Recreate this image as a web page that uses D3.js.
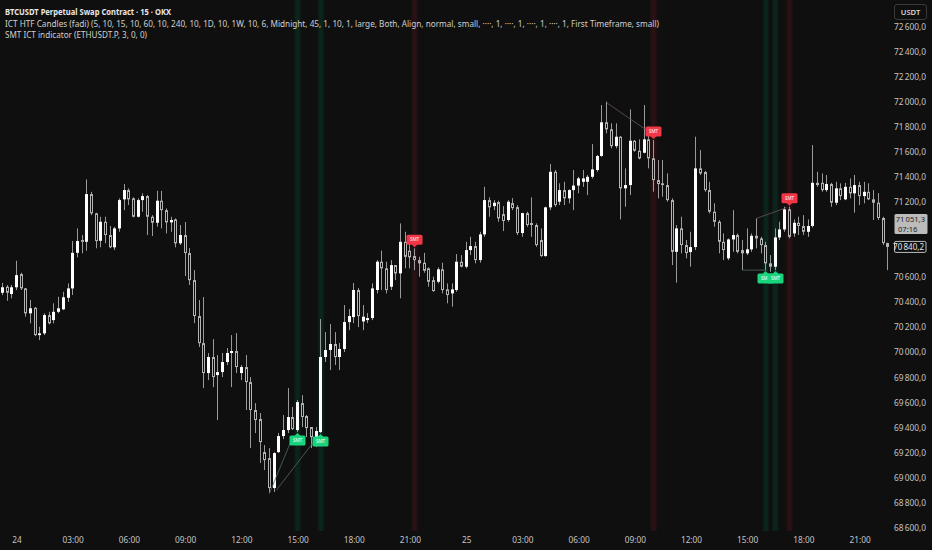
<!DOCTYPE html>
<html><head><meta charset="utf-8">
<script src="https://cdn.jsdelivr.net/npm/d3@7"></script>
<style>html,body{margin:0;padding:0;background:#0f0f0f;overflow:hidden}svg{display:block}</style>
</head><body>
<svg id="chart" width="932" height="550"></svg>
<script>
// ---------- DATA (BTCUSDT perp, 15m bars, first bar = 23rd 23:15, bar offset -3 from 24th 00:00) ----------
const firstBarOffset = -3;
const opens = [70474,70522,70464,70518,70623,70509,70310,70354,70136,70150,70296,70256,70322,70342,70434,70509,70793,70895,70881,71262,71108,70889,71041,70935,70837,70988,71220,71294,71228,71081,71214,71246,71081,71033,71209,71134,71036,71060,70869,70935,70791,70575,70288,70072,69833,69961,69817,69841,69921,69993,70009,69833,69881,69761,69538,69466,69202,69154,68915,69202,69330,69378,69482,69378,69593,69490,69402,69322,69362,69961,70017,70065,69961,70025,70240,70280,70496,70245,70256,70272,70496,70722,70669,70522,70695,70629,70881,70810,70767,70735,70714,70669,70575,70562,70661,70501,70469,70496,70722,70682,70815,70847,70735,70940,71214,71166,71198,71102,71055,71190,71158,70951,71110,71031,71015,70895,70767,71156,71440,71201,71294,71228,71294,71330,71360,71360,71400,71454,71566,71835,71779,71645,71720,71308,71334,71688,71608,71592,71699,71547,71374,71348,71334,71214,70801,70988,70855,70799,70839,71467,71438,71294,71121,71041,70881,70749,70900,70935,70815,70789,70821,70929,70908,70855,70709,70682,70916,70980,71140,70948,71033,71007,70961,71007,71352,71352,71294,71342,71193,71308,71220,71320,71268,71334,71246,71280,71220,71193,71071,70871];
const highs = [70553,70536,70536,70730,70634,70512,70416,70360,70203,70310,70322,70390,70442,70482,70549,70887,70988,70935,71379,71280,71113,71081,71081,71007,71001,71228,71342,71308,71236,71228,71268,71254,71094,71288,71288,71148,71081,71068,71015,71039,70831,70655,70416,70440,69993,70104,69977,69993,70033,70136,70152,69897,69977,69801,69593,69514,69258,69234,69202,69354,69498,69713,69562,69617,69657,69498,69402,69402,70264,70160,70224,70160,70073,70376,70344,70552,70512,70376,70312,70549,70735,70810,70722,70735,70695,71028,70961,70869,70829,70762,70793,70677,70602,70677,70714,70549,70549,70783,70775,70881,70921,70881,70961,71320,71236,71214,71209,71166,71214,71230,71174,71113,71121,71236,71028,70988,71161,71502,71454,71348,71360,71300,71454,71400,71454,71414,71661,71574,71973,72000,71827,71827,71725,71467,71938,71693,71699,71973,71799,71693,71534,71534,71427,71228,71015,71081,70895,70961,71720,71613,71448,71360,71188,71055,70948,70908,71134,70948,70895,70988,70948,71068,70921,70881,70775,70988,71041,71161,71161,71060,71081,71094,71060,71653,71440,71427,71414,71352,71360,71348,71352,71387,71414,71360,71360,71348,71294,71270,71081,70874];
const lows = [70456,70410,70430,70496,70496,70283,70230,70128,70096,70136,70222,70230,70310,70336,70402,70456,70757,70789,70810,71094,70829,70837,70869,70829,70815,70961,71134,71174,71076,71076,71121,70935,70927,71001,70988,70948,70961,70837,70855,70607,70536,70232,70041,69713,69777,69721,69458,69801,69897,69721,69833,69777,69538,69234,69354,69115,69059,68875,68883,69194,69306,69354,69378,69362,69402,69322,69234,69242,69354,69921,69857,69897,69857,70001,70176,70232,70200,70176,70232,70256,70469,70496,70469,70496,70575,70430,70669,70669,70655,70602,70634,70522,70482,70549,70469,70390,70363,70482,70677,70669,70775,70709,70714,70921,71081,71134,71041,70967,71041,71134,70935,70921,71001,70921,70841,70762,70762,71134,71161,71174,71174,71188,71134,71268,71320,71254,71387,71440,71560,71747,71627,71627,71060,71161,71254,71600,71539,71587,71467,71281,71228,71241,71201,70695,70554,70789,70749,70682,70815,71414,71280,71108,71001,70789,70735,70735,70801,70789,70655,70775,70801,70829,70789,70655,70642,70655,70895,70961,70908,70921,70935,70935,70921,70996,71320,71280,71280,71161,71174,71214,71214,71228,71113,71174,71188,71214,71055,71055,70855,70655];
const closes = [70518,70474,70518,70615,70509,70310,70350,70136,70150,70296,70230,70322,70350,70438,70509,70793,70887,70881,71262,71108,70887,71041,70935,70837,70988,71214,71294,71220,71081,71214,71246,71081,71033,71209,71134,71036,71055,70869,70935,70791,70575,70288,70072,69833,69961,69801,69841,69921,69993,70009,69881,69881,69761,69538,69458,69282,69138,68915,69194,69330,69378,69482,69386,69601,69482,69394,69322,69370,69961,70017,70065,69961,70025,70240,70288,70496,70288,70283,70272,70509,70722,70669,70496,70695,70629,70881,70761,70757,70735,70709,70650,70562,70488,70661,70496,70456,70501,70722,70682,70815,70847,70735,70940,71214,71156,71193,71068,71047,71201,71150,70951,71110,71015,71015,70855,70767,71156,71440,71174,71294,71228,71294,71330,71387,71387,71400,71459,71566,71835,71779,71645,71720,71308,71334,71688,71608,71547,71699,71547,71374,71342,71334,71214,70801,70988,70855,70791,70839,71467,71427,71294,71121,71041,70881,70815,70900,70935,70801,70789,70821,70929,70908,70855,70709,70682,70916,70980,71140,70921,71033,71007,70961,71007,71352,71334,71294,71342,71193,71308,71246,71320,71268,71334,71246,71280,71220,71193,71071,70871,70840.2];

const priceTicks = [68600,68800,69000,69200,69400,69600,69800,70000,70200,70400,70600,70800,71000,71200,71400,71600,71800,72000,72200,72400,72600];
const timeTickLabels = ["24","03:00","06:00","09:00","12:00","15:00","18:00","21:00","25","03:00","06:00","09:00","12:00","15:00","18:00","21:00"];

// SMT signals (bar offset from 24th 00:00, type)
const smtBars  = [60, 65, 85, 136, 160, 162, 165];
const smtTypes = ["bull","bull","bear","bear","bull","bull","bear"];
// SMT connection lines (bar offsets & prices)
const smtLineFromBar   = [54, 55.5, 126, 155, 158];
const smtLineFromPrice = [68872, 68899, 71991, 70655, 71068];
const smtLineToBar     = [58.4, 63.2, 134.5, 160.2, 164.4];
const smtLineToPrice   = [69272, 69272, 71773, 70655, 71154];
const smtLineTypes     = ["bull","bull","bear","bull","bear"];

const lastPrice = 70840.2;
const markPrice = 71051.3;
const countdown = "07:16";

const title1 = "BTCUSDT Perpetual Swap Contract · 15 · OKX";
const title2 = "ICT HTF Candles (fadi) (5, 10, 15, 10, 60, 10, 240, 10, 1D, 10, 1W, 10, 6, Midnight, 45, 1, 10, 1, large, Both, Align, normal, small, ····, 1, ····, 1, ····, 1, ····, 1, First Timeframe, small)";
const title3 = "SMT ICT indicator (ETHUSDT.P, 3, 0, 0)";

// ---------- RENDER ----------
const W = 932, H = 550;
const BG = "#0f0f0f";
const FONT = "'Noto Sans', 'Open Sans', sans-serif";
const svg = d3.select("#chart");
svg.append("rect").attr("width", W).attr("height", H).attr("fill", BG);

const MS15 = 15 * 60 * 1000;
const t0 = Date.UTC(2024, 4, 24, 0, 0);
const barTime = k => new Date(t0 + k * MS15);

const x = d3.scaleUtc().domain([new Date(t0), new Date(t0 + 96 * MS15)]).range([16.5, 466.16]);
const y = d3.scaleLinear().domain([68600, 72600]).range([527.5, 26.5]);

const bars = opens.map((o, k) => ({
  t: barTime(k + firstBarOffset), o, h: highs[k], l: lows[k], c: closes[k]
}));

const defs = svg.append("defs");
defs.append("clipPath").attr("id", "plot").append("rect").attr("x", 0).attr("y", 0).attr("width", 891).attr("height", 531);

const plot = svg.append("g").attr("clip-path", "url(#plot)");

// background bands (soft glow: wide faint + narrow core)
const bandData = smtBars.map((b, k) => ({ b, type: smtTypes[k] }));
plot.selectAll("rect.bandw").data(bandData).join("rect").attr("class", "bandw")
  .attr("x", d => x(barTime(d.b)) - 3.5).attr("y", 0).attr("width", 7).attr("height", 531)
  .attr("fill", d => d.type === "bull" ? "rgba(0,170,95,0.07)" : "rgba(210,40,60,0.07)");
plot.selectAll("rect.band").data(bandData).join("rect").attr("class", "band")
  .attr("x", d => x(barTime(d.b)) - 2).attr("y", 0).attr("width", 4).attr("height", 531)
  .attr("fill", d => d.type === "bull" ? "rgba(0,170,95,0.09)" : "rgba(210,40,60,0.08)");

// candles
const cg = plot.append("g");
bars.forEach(d => {
  const px = Math.floor(x(d.t));
  cg.append("line")
    .attr("x1", px + 0.5).attr("x2", px + 0.5)
    .attr("y1", y(d.h)).attr("y2", y(d.l))
    .attr("stroke", "#9a9a9a").attr("stroke-width", 1);
  const top = y(Math.max(d.o, d.c)), bot = y(Math.min(d.o, d.c));
  if (d.c >= d.o) {
    cg.append("rect").attr("x", px - 1).attr("width", 3)
      .attr("y", top).attr("height", Math.max(1, bot - top))
      .attr("fill", "#ffffff");
  } else {
    cg.append("rect").attr("x", px - 0.5).attr("width", 2)
      .attr("y", top + 0.5).attr("height", Math.max(0.5, bot - top - 1))
      .attr("fill", BG).attr("stroke", "#b4b4b4").attr("stroke-width", 1);
  }
});

// SMT lines
plot.selectAll("line.smt").data(smtLineFromBar.map((b, k) => ({
  x1: x(new Date(t0 + b * MS15)), y1: y(smtLineFromPrice[k]),
  x2: x(new Date(t0 + smtLineToBar[k] * MS15)), y2: y(smtLineToPrice[k]),
  type: smtLineTypes[k]
}))).join("line").attr("class", "smt")
  .attr("x1", d => d.x1).attr("y1", d => d.y1).attr("x2", d => d.x2).attr("y2", d => d.y2)
  .attr("stroke", d => d.type === "bull" ? "#4f6b5e" : "#6b5558").attr("stroke-width", 0.8);

// SMT labels
smtBars.forEach((b, k) => {
  const bar = bars[b - firstBarOffset];
  const cx = Math.floor(x(barTime(b))) + 0.5;
  const bull = smtTypes[k] === "bull";
  const col = bull ? "#19d47c" : "#f23645";
  const bw = 16, bh = 10;
  const g = plot.append("g");
  if (bull) {
    const tip = y(bar.l) + 1;
    g.append("path").attr("d", `M${cx},${tip} L${cx - 3},${tip + 3} L${cx + 3},${tip + 3} Z`).attr("fill", col);
    g.append("rect").attr("x", cx - bw / 2).attr("y", tip + 2.5).attr("width", bw).attr("height", bh).attr("rx", 1.5).attr("fill", col);
    g.append("text").attr("x", cx).attr("y", tip + 2.5 + bh / 2 + 0.3).attr("text-anchor", "middle").attr("dominant-baseline", "middle")
      .attr("font-family", FONT).attr("font-size", 4.6).attr("fill", "#ffffff").text("SMT");
  } else {
    const tip = y(bar.h) - 1;
    g.append("path").attr("d", `M${cx},${tip} L${cx - 3},${tip - 3} L${cx + 3},${tip - 3} Z`).attr("fill", col);
    g.append("rect").attr("x", cx - bw / 2).attr("y", tip - 2.5 - bh).attr("width", bw).attr("height", bh).attr("rx", 1.5).attr("fill", col);
    g.append("text").attr("x", cx).attr("y", tip - 2.5 - bh / 2 + 0.3).attr("text-anchor", "middle").attr("dominant-baseline", "middle")
      .attr("font-family", FONT).attr("font-size", 4.6).attr("fill", "#ffffff").text("SMT");
  }
});

// ---------- Y axis (right) ----------
const fmtPrice = v => {
  const s = v.toFixed(1).replace(".", ",");
  const [ip, dp] = s.split(",");
  return ip.replace(/\B(?=(\d{3})+(?!\d))/g, "\u2009") + "," + dp;
};
const my = y(markPrice), ly = y(lastPrice);
// tick labels that sit under the price boxes are hidden, as in the reference
const visibleTicks = priceTicks.filter(v => Math.abs(y(v) - (my + 3.5)) > 13 && Math.abs(y(v) - ly) > 9);
const yAxis = d3.axisRight(y).tickValues(visibleTicks).tickSize(0).tickPadding(0).tickFormat(fmtPrice);
const yg = svg.append("g").attr("transform", "translate(926,0)").call(yAxis);
yg.select(".domain").remove();
yg.selectAll("text").attr("text-anchor", "end").attr("dy", "0.34em")
  .attr("font-family", FONT).attr("font-size", 8.3).attr("fill", "#c4c4c4");

// ---------- X axis ----------
const timeTicks = timeTickLabels.map((_, k) => new Date(t0 + k * 12 * MS15));
const xAxis = d3.axisBottom(x).tickValues(timeTicks).tickSize(0).tickPadding(0)
  .tickFormat((d, k) => timeTickLabels[k]);
const xg = svg.append("g").attr("transform", "translate(0,537)").call(xAxis);
xg.select(".domain").remove();
xg.selectAll("text").attr("dy", "0.34em").attr("y", 3.5)
  .attr("font-family", FONT).attr("font-size", 8.3).attr("fill", "#c4c4c4");

// ---------- price labels ----------
svg.append("rect").attr("x", 894.5).attr("y", my - 6.5).attr("width", 33).attr("height", 20).attr("rx", 1.5).attr("fill", "#bcbcbc");
svg.append("text").attr("x", 925).attr("y", my - 0.6).attr("dy", "0.34em").attr("text-anchor", "end")
  .attr("font-family", FONT).attr("font-size", 7.6).attr("fill", "#1b1b1b").text(fmtPrice(markPrice));
svg.append("text").attr("x", 898).attr("y", my + 8.6).attr("dy", "0.34em").attr("text-anchor", "start")
  .attr("font-family", FONT).attr("font-size", 7.6).attr("fill", "#1b1b1b").text(countdown);

svg.append("rect").attr("x", 894.5).attr("y", ly - 5.5).attr("width", 31.5).attr("height", 11).attr("rx", 1.5)
  .attr("fill", BG).attr("stroke", "#d0d0d0").attr("stroke-width", 0.9);
svg.append("text").attr("x", 924).attr("y", ly).attr("dy", "0.34em").attr("text-anchor", "end")
  .attr("font-family", FONT).attr("font-size", 8).attr("fill", "#e6e6e6").text(fmtPrice(lastPrice));

// USDT box
svg.append("rect").attr("x", 894.5).attr("y", 4.5).attr("width", 32).attr("height", 15).attr("rx", 2.5)
  .attr("fill", BG).attr("stroke", "#3a3a3a").attr("stroke-width", 1);
svg.append("text").attr("x", 910.5).attr("y", 12).attr("dy", "0.35em").attr("text-anchor", "middle")
  .attr("font-family", FONT).attr("font-size", 7.6).attr("font-weight", 600).attr("fill", "#d6d6d6").text("USDT");

// ---------- header ----------
const hdr = svg.append("g").attr("font-family", FONT);
hdr.append("text").attr("x", 5).attr("y", 12.5).attr("dy", "0.35em").attr("font-size", 8.4).attr("font-weight", 700)
  .attr("fill", "#e8e8e8").attr("textLength", 166).attr("lengthAdjust", "spacingAndGlyphs").text(title1);
hdr.append("text").attr("x", 5).attr("y", 23.8).attr("dy", "0.35em").attr("font-size", 8.4)
  .attr("fill", "#cfcfcf").attr("textLength", 654).attr("lengthAdjust", "spacingAndGlyphs").text(title2);
hdr.append("text").attr("x", 5).attr("y", 35).attr("dy", "0.35em").attr("font-size", 8.4)
  .attr("fill", "#cfcfcf").attr("textLength", 142).attr("lengthAdjust", "spacingAndGlyphs").text(title3);
</script>
</body></html>
